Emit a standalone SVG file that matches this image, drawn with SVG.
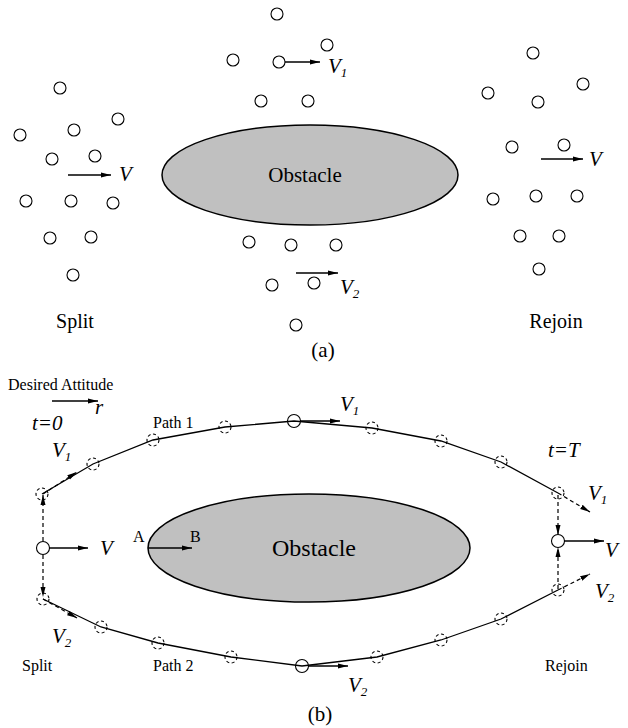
<svg xmlns="http://www.w3.org/2000/svg" width="628" height="728" viewBox="0 0 628 728">
<style>
.bg{fill:#fff}
.c{fill:none;stroke:#000;stroke-width:1.1}
.dc{fill:none;stroke:#000;stroke-width:1.1;stroke-dasharray:3,2.5}
.obs{fill:#c0c0c0;stroke:#000;stroke-width:1.5}
.ln{fill:none;stroke:#000;stroke-width:1.3}
.dl{fill:none;stroke:#000;stroke-width:1.2;stroke-dasharray:4,3}
.t{font-family:"Liberation Serif","Times New Roman",serif;fill:#000}
.v{font-family:"Liberation Serif","Times New Roman",serif;font-style:italic;font-size:21px;fill:#000}
.sub{font-size:13px}
</style>
<defs>
<marker id="ah" viewBox="0 0 10 6" refX="10" refY="3" markerWidth="10" markerHeight="6" markerUnits="userSpaceOnUse" orient="auto">
<path d="M0,0.5 L10,3 L0,5.5 z" fill="#000"/>
</marker>
</defs>
<rect class="bg" x="0" y="0" width="628" height="728"/>

<!-- ===== (a) ===== -->
<g id="a-obstacle">
<ellipse class="obs" cx="310" cy="175" rx="148" ry="50"/>
<text class="t" x="305" y="182" font-size="21" text-anchor="middle">Obstacle</text>
</g>
<g id="a-split-group">
<circle class="c" cx="60" cy="88" r="6"/>
<circle class="c" cx="118" cy="119" r="6"/>
<circle class="c" cx="20" cy="135" r="6"/>
<circle class="c" cx="74" cy="130" r="6"/>
<circle class="c" cx="52" cy="159" r="6"/>
<circle class="c" cx="95" cy="156" r="6"/>
<circle class="c" cx="26" cy="201" r="6"/>
<circle class="c" cx="71" cy="201" r="6"/>
<circle class="c" cx="113" cy="203" r="6"/>
<circle class="c" cx="50" cy="238" r="6"/>
<circle class="c" cx="91" cy="237" r="6"/>
<circle class="c" cx="73" cy="275" r="6"/>
<text class="v" x="119" y="181">V</text>
<text class="t" x="75" y="328" font-size="20" text-anchor="middle">Split</text>
</g>
<g id="a-middle-group">
<circle class="c" cx="277" cy="14" r="6"/>
<circle class="c" cx="327" cy="45" r="6"/>
<circle class="c" cx="233" cy="60" r="6"/>
<circle class="c" cx="279" cy="62" r="6"/>
<circle class="c" cx="261" cy="101" r="6"/>
<circle class="c" cx="308" cy="101" r="6"/>
<circle class="c" cx="249" cy="242" r="6"/>
<circle class="c" cx="291" cy="245" r="6"/>
<circle class="c" cx="336" cy="245" r="6"/>
<circle class="c" cx="272" cy="285" r="6"/>
<circle class="c" cx="314" cy="283" r="6"/>
<circle class="c" cx="296" cy="325" r="6"/>
<text class="v" x="328" y="73">V<tspan class="sub" dy="4">1</tspan></text>
<text class="v" x="340" y="294">V<tspan class="sub" dy="4">2</tspan></text>
</g>
<g id="a-rejoin-group">
<circle class="c" cx="533" cy="53" r="6"/>
<circle class="c" cx="583" cy="84" r="6"/>
<circle class="c" cx="488" cy="93" r="6"/>
<circle class="c" cx="538" cy="102" r="6"/>
<circle class="c" cx="512" cy="147" r="6"/>
<circle class="c" cx="564" cy="145" r="6"/>
<circle class="c" cx="493" cy="199" r="6"/>
<circle class="c" cx="536" cy="196" r="6"/>
<circle class="c" cx="577" cy="196" r="6"/>
<circle class="c" cx="520" cy="236" r="6"/>
<circle class="c" cx="559" cy="236" r="6"/>
<circle class="c" cx="539" cy="269" r="6"/>
<text class="v" x="589" y="166">V</text>
<text class="t" x="556" y="328" font-size="20" text-anchor="middle">Rejoin</text>
</g>
<text class="t" x="323" y="357" font-size="21" text-anchor="middle">(a)</text>

<!-- ===== (b) ===== -->
<g id="b-obstacle">
<ellipse class="obs" cx="309" cy="548" rx="161" ry="54"/>
<text class="t" x="314" y="556" font-size="24" text-anchor="middle">Obstacle</text>
<text class="t" x="133" y="542" font-size="16">A</text>
<text class="t" x="190" y="542" font-size="16">B</text>
</g>
<g id="b-legend">
<text class="t" x="8" y="390" font-size="16">Desired Attitude</text>
<text class="v" x="95" y="414" font-size="16">r</text>
<text class="v" x="32" y="430" font-size="16">t=0</text>
<text class="v" x="548" y="457" font-size="16">t=T</text>
<text class="t" x="153" y="428" font-size="16">Path 1</text>
<text class="t" x="153" y="671" font-size="16">Path 2</text>
<text class="t" x="22" y="671" font-size="16">Split</text>
<text class="t" x="545" y="671" font-size="16">Rejoin</text>
</g>

<g id="connectors">
<!-- attitude arrow -->
<line class="ln" x1="52" y1="401" x2="98" y2="401" marker-end="url(#ah)"/>
<!-- path 1 -->
<polyline class="ln" points="42,494 93,464 153,440 225,427 294,421 372,428 441,441 501,462 558,493"/>
<!-- path 2 -->
<polyline class="ln" points="43,599 101,627 158,643 231,657 302,666 377,657 441,640 501,619 558,590"/>
<!-- split vertical -->
<line class="dl" x1="43" y1="541" x2="43" y2="495" marker-end="url(#ah)"/>
<line class="dl" x1="43" y1="555" x2="43" y2="597" marker-end="url(#ah)"/>
<!-- rejoin vertical -->
<line class="dl" x1="558" y1="495" x2="558" y2="535" marker-end="url(#ah)"/>
<line class="dl" x1="558" y1="589" x2="558" y2="547" marker-end="url(#ah)"/>
<!-- velocity arrows -->
<line class="dl" x1="43" y1="494" x2="77" y2="472" marker-end="url(#ah)"/>
<line class="dl" x1="43" y1="599" x2="77" y2="618" marker-end="url(#ah)"/>
<line class="dl" x1="558" y1="493" x2="590" y2="512" marker-end="url(#ah)"/>
<line class="dl" x1="558" y1="590" x2="590" y2="574" marker-end="url(#ah)"/>
<line class="ln" x1="49" y1="548" x2="88" y2="548" marker-end="url(#ah)"/>
<line class="ln" x1="564" y1="541" x2="604" y2="541" marker-end="url(#ah)"/>
<line class="ln" x1="300" y1="421" x2="340" y2="421" marker-end="url(#ah)"/>
<line class="ln" x1="308" y1="666" x2="348" y2="666" marker-end="url(#ah)"/>
<line class="ln" x1="148" y1="548" x2="192" y2="548" marker-end="url(#ah)"/>
<!-- (a) arrows -->
<line class="ln" x1="68" y1="175" x2="111" y2="175" marker-end="url(#ah)"/>
<line class="ln" x1="285" y1="62" x2="320" y2="62" marker-end="url(#ah)"/>
<line class="ln" x1="296" y1="273" x2="338" y2="273" marker-end="url(#ah)"/>
<line class="ln" x1="541" y1="159" x2="583" y2="159" marker-end="url(#ah)"/>
</g>

<g id="b-p0"><circle class="dc" cx="42" cy="494" r="6"/></g>
<g id="b-p1"><circle class="dc" cx="93" cy="464" r="6"/></g>
<g id="b-p2"><circle class="dc" cx="153" cy="440" r="6"/></g>
<g id="b-p3"><circle class="dc" cx="225" cy="427" r="6"/></g>
<g id="b-p4"><circle class="c" cx="294" cy="421" r="6.5"/><text class="v" x="340" y="411">V<tspan class="sub" dy="4">1</tspan></text></g>
<g id="b-p5"><circle class="dc" cx="372" cy="428" r="6"/></g>
<g id="b-p6"><circle class="dc" cx="441" cy="441" r="6"/></g>
<g id="b-p7"><circle class="dc" cx="501" cy="462" r="6"/></g>
<g id="b-p8"><circle class="dc" cx="558" cy="493" r="6"/></g>
<g id="b-q0"><circle class="dc" cx="43" cy="599" r="6"/></g>
<g id="b-q1"><circle class="dc" cx="101" cy="627" r="6"/></g>
<g id="b-q2"><circle class="dc" cx="158" cy="643" r="6"/></g>
<g id="b-q3"><circle class="dc" cx="231" cy="657" r="6"/></g>
<g id="b-q4"><circle class="c" cx="302" cy="666" r="6.5"/><text class="v" x="348" y="692">V<tspan class="sub" dy="4">2</tspan></text></g>
<g id="b-q5"><circle class="dc" cx="377" cy="657" r="6"/></g>
<g id="b-q6"><circle class="dc" cx="441" cy="640" r="6"/></g>
<g id="b-q7"><circle class="dc" cx="501" cy="619" r="6"/></g>
<g id="b-q8"><circle class="dc" cx="558" cy="590" r="6"/></g>
<g id="b-split-center"><circle class="c" cx="43" cy="548" r="6.5"/><text class="v" x="100" y="555">V</text>
<text class="v" x="52" y="457">V<tspan class="sub" dy="4">1</tspan></text>
<text class="v" x="52" y="643">V<tspan class="sub" dy="4">2</tspan></text></g>
<g id="b-rejoin-center"><circle class="c" cx="558" cy="541" r="6.5"/><text class="v" x="605" y="557">V</text>
<text class="v" x="588" y="500">V<tspan class="sub" dy="4">1</tspan></text>
<text class="v" x="595" y="598">V<tspan class="sub" dy="4">2</tspan></text></g>
<text class="t" x="320" y="721" font-size="21" text-anchor="middle">(b)</text>
</svg>
